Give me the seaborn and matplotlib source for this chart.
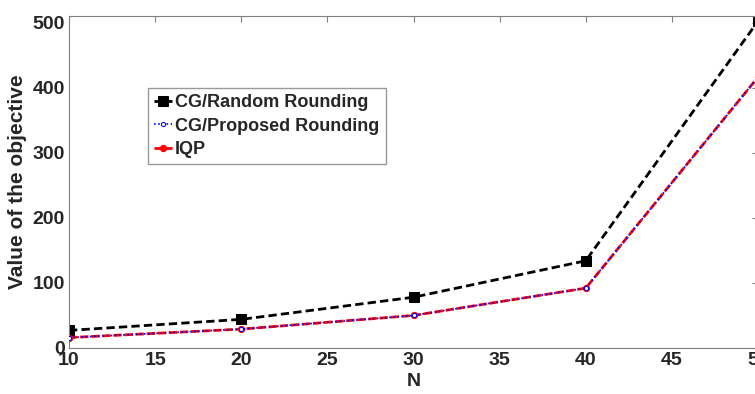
import pandas as pd
import matplotlib
matplotlib.use('Agg')
import matplotlib.pyplot as plt
import seaborn as sns

n_vals = [10, 20, 30, 40, 50]
cg_random = [27, 44, 78, 134, 502]
cg_proposed = [16, 29, 50, 92, 416]
iqp = [16, 29, 50, 92, 416]

sns.set_style('white')
plt.rcParams['font.family'] = ['Liberation Sans', 'DejaVu Sans']
plt.rcParams['font.weight'] = 'bold'

df = pd.DataFrame({
    'N': n_vals * 3,
    'value': cg_random + cg_proposed + iqp,
    'method': ['CG/Random Rounding'] * 5 + ['CG/Proposed Rounding'] * 5 + ['IQP'] * 5,
})

fig = plt.figure(figsize=(7.55, 3.94), dpi=100)
W, H = 755, 394
ax = fig.add_axes([69 / W, 1 - 348 / H, (758 - 69) / W, (348 - 16) / H])

styles = {
    'CG/Random Rounding': dict(color='black', ls=(0, (3, 1.5)), marker='s', ms=7, lw=2),
    'CG/Proposed Rounding': dict(color='blue', ls=(0, (1, 1.5)), marker='o', ms=3, lw=1.2, mfc='white'),
    'IQP': dict(color='red', ls=(0, (3, 1)), marker='o', ms=4.5, lw=2),
}
for m, st in styles.items():
    sub = df[df['method'] == m]
    sns.lineplot(data=sub, x='N', y='value', ax=ax, label=m, color=st['color'],
                 linestyle=st['ls'], marker=st['marker'], markersize=st['ms'],
                 linewidth=st['lw'], markeredgecolor=st['color'],
                 markerfacecolor=st.get('mfc', st['color']))
for line in ax.get_lines():
    if line.get_label() == 'CG/Proposed Rounding':
        line.set_zorder(5)

ax.set_xlim(10, 50)
ax.set_ylim(0, 510)
ax.set_xticks([10, 15, 20, 25, 30, 35, 40, 45, 50])
ax.set_yticks([0, 100, 200, 300, 400, 500])
ax.tick_params(axis='both', labelsize=14, direction='in', length=4, color='gray',
               top=True, right=True, pad=3)
for lab in ax.get_xticklabels() + ax.get_yticklabels():
    lab.set_fontweight('bold')
ax.set_xlabel('N', fontsize=14, fontweight='bold', labelpad=3)
ax.set_ylabel('Value of the objective', fontsize=15, fontweight='bold', labelpad=4)
for s in ax.spines.values():
    s.set_color('gray')

leg = ax.legend(loc='upper left', bbox_to_anchor=((148 - 69) / (758 - 69), 1 - (88 - 16) / (348 - 16)),
                fontsize=13, frameon=True, fancybox=False, handlelength=1.0,
                handletextpad=0.15, borderpad=0.35, labelspacing=0.35, borderaxespad=0)
leg.get_frame().set_edgecolor('gray')
for t in leg.get_texts():
    t.set_fontweight('bold')

fig.savefig('out.png', dpi=100)
